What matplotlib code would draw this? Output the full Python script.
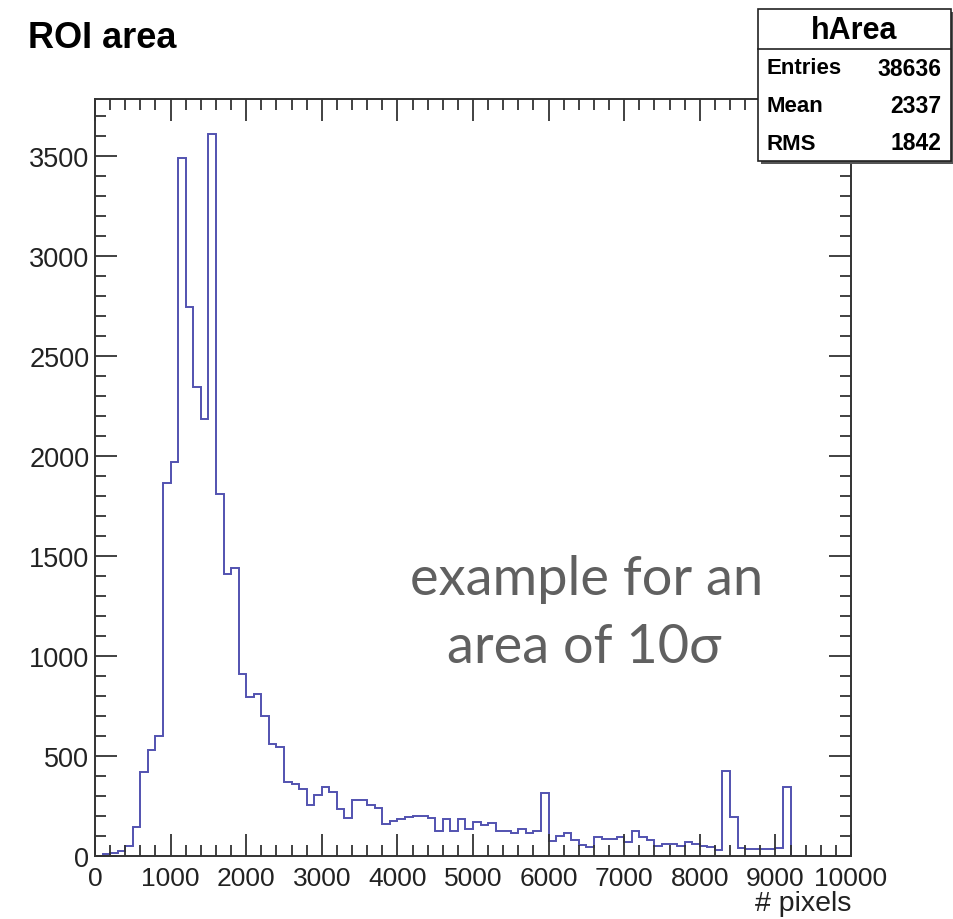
#!/usr/bin/env python3
"""ROI area histogram (hArea) drawn in a ROOT-like style."""
import matplotlib

matplotlib.use("Agg")
import matplotlib.pyplot as plt
import numpy as np
from matplotlib.patches import Rectangle
from matplotlib.ticker import MultipleLocator

# 100 bins of 100 pixels from 0 to 10000
bin_edges = np.linspace(0, 10000, 101)
counts = [
    0, 10, 15, 27, 52, 143, 422, 532, 598, 1865,
    1972, 3488, 2743, 2343, 2185, 3610, 1810, 1410, 1440, 910,
    793, 810, 702, 560, 543, 368, 360, 335, 255, 305,
    343, 318, 235, 188, 282, 280, 255, 238, 160, 177,
    185, 193, 198, 202, 188, 127, 185, 127, 185, 135,
    168, 155, 165, 127, 127, 115, 135, 115, 127, 315,
    77, 102, 115, 82, 55, 43, 93, 85, 85, 93,
    68, 127, 93, 82, 48, 61, 58, 50, 68, 58,
    52, 43, 28, 427, 193, 38, 35, 35, 35, 35,
    38, 343, 0, 0, 0, 0, 0, 0, 0, 0,
]
stat_names = ["Entries", "Mean", "RMS"]
stat_values = ["38636", "2337", "1842"]
hist_name = "hArea"

plt.rcParams["font.family"] = ["Liberation Sans", "DejaVu Sans"]

W, H = 954, 920
fig = plt.figure(figsize=(W / 100, H / 100), dpi=100)
ax = fig.add_axes([95 / W, 1 - 857 / H, (851 - 95) / W, (857 - 100) / H])

ax.stairs(counts, bin_edges, color="#5252b0", lw=1.4)

ax.set_xlim(0, 10000)
ax.set_ylim(0, 3785)
ax.xaxis.set_major_locator(MultipleLocator(1000))
ax.xaxis.set_minor_locator(MultipleLocator(200))
ax.yaxis.set_major_locator(MultipleLocator(500))
ax.yaxis.set_minor_locator(MultipleLocator(100))
ax.tick_params(which="both", direction="in", top=True, right=True, color="#333333", width=1.3)
ax.tick_params(which="major", length=16)
ax.tick_params(which="minor", length=8)
ax.tick_params(axis="x", which="major", labelsize=19, pad=7, labelcolor="#222222")
ax.tick_params(axis="y", which="major", labelsize=19.5, pad=4, labelcolor="#222222")
for s in ax.spines.values():
    s.set_linewidth(1.4)
    s.set_color("#333333")

ax.text(1.0, -0.045, "# pixels", transform=ax.transAxes, ha="right", va="top",
        fontsize=20.5, color="#222222")

fig.text(28 / W, 1 - 48 / H, "ROI area", fontsize=26, fontweight="bold", ha="left", va="baseline")

# stats box with drop shadow
bx0, by0, bx1, by1 = 758, 10, 951, 162
fig.patches.append(Rectangle(((bx0 + 3) / W, 1 - (by1 + 3) / H), (bx1 - bx0) / W, (by1 - by0) / H,
                             transform=fig.transFigure, facecolor="#555555", edgecolor="none", zorder=5))
fig.patches.append(Rectangle((bx0 / W, 1 - by1 / H), (bx1 - bx0) / W, (by1 - by0) / H,
                             transform=fig.transFigure, facecolor="white", edgecolor="#222222", lw=1.2, zorder=6))
fig.add_artist(plt.Line2D([bx0 / W, bx1 / W], [1 - 50 / H, 1 - 50 / H], transform=fig.transFigure,
                          color="#222222", lw=1.2, zorder=7))
fig.text((bx0 + bx1) / 2 / W, 1 - 31 / H, hist_name, ha="center", va="center", fontsize=22,
         fontweight="bold", zorder=8)
for i, (name, val) in enumerate(zip(stat_names, stat_values)):
    yy = 1 - (69 + 37.5 * i) / H
    fig.text(767 / W, yy, name, ha="left", va="center", fontsize=16, fontweight="bold", zorder=8)
    fig.text(941 / W, yy, val, ha="right", va="center", fontsize=16.5, fontweight="bold", zorder=8)

# annotation in the free area of the plot
note_font = ["Lato", "DejaVu Sans"]
fig.text(587 / W, 1 - 595 / H, "example for an", ha="center", va="baseline", fontsize=39,
         color="#606060", family=note_font)
fig.text(584 / W, 1 - 663 / H, "area of 10σ", ha="center", va="baseline", fontsize=39,
         color="#606060", family=note_font)

fig.savefig("out.png", dpi=100)
